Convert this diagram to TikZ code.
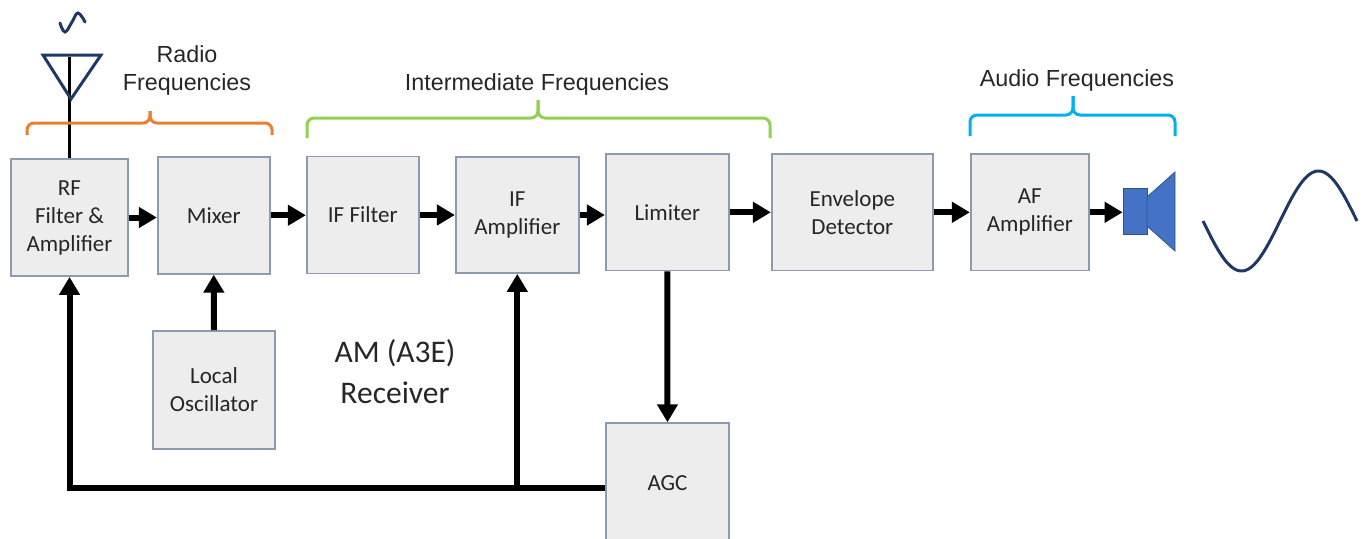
\documentclass[tikz,border=0pt]{standalone}
\usepackage{fontspec}
\setmainfont{Carlito}
\newfontfamily\bracefont{Liberation Sans}
\usetikzlibrary{arrows.meta}
\definecolor{boxfill}{HTML}{EDEDED}
\definecolor{boxline}{HTML}{8C9BB0}
\definecolor{navy}{HTML}{1F3864}
\definecolor{rfcol}{HTML}{ED7D31}
\definecolor{ifcol}{HTML}{92D050}
\definecolor{afcol}{HTML}{00B0F0}
\definecolor{spkfill}{HTML}{4472C4}
\definecolor{spkline}{HTML}{2F528F}
\tikzset{
	block/.style={draw=boxline, fill=boxfill, line width=1.8pt, align=center,
		text=black!85, font=\fontsize{23}{28}\selectfont, inner sep=0pt},
	sig/.style={line width=6pt, -{Triangle[length=18pt,width=20pt]}},
	brace/.style={line width=3pt, rounded corners=7pt},
	bracetext/.style={font=\bracefont\fontsize{23.3}{28}\selectfont, align=center, text=black!85},
}

\begin{document}
\begin{tikzpicture}[x=1pt,y=-1pt]
\useasboundingbox (0,0) rectangle (1370,538);
% blocks
\node[block, minimum width=117pt, minimum height=117pt] (rf) at (69.5,217.5) {RF\\Filter \&\\Amplifier};
\node[block, minimum width=112pt, minimum height=117pt] (mix) at (213.75,215.25) {Mixer};
\node[block, minimum width=112pt, minimum height=117pt] (iff) at (362.75,215) {IF Filter};
\node[block, minimum width=123pt, minimum height=116pt] (ifa) at (517.3,215) {IF\\Amplifier};
\node[block, minimum width=123pt, minimum height=116.5pt] (lim) at (667.3,212.3) {Limiter};
\node[block, minimum width=161pt, minimum height=116.5pt] (env) at (852.3,212.3) {Envelope\\Detector};
\node[block, minimum width=118pt, minimum height=116.5pt] (afa) at (1029.8,212.3) {AF\\Amplifier};
\node[block, minimum width=122pt, minimum height=118pt] (lo) at (214,390) {Local\\Oscillator};
\node[block, minimum width=123pt, minimum height=129pt] (agc) at (667.5,487.7) {};
\node[block, draw=none, fill=none] (agclabel) at (667.5,483) {AGC};
\node[align=center, text=black!85, font=\fontsize{31.5}{41}\selectfont] (title) at (395,372) {AM (A3E)\\Receiver};

% speaker
\node[draw=spkline, fill=spkfill, line width=0.8pt, minimum width=24pt, minimum height=46pt, inner sep=0pt] (spk) at (1135,211) {};
\draw[draw=spkline, fill=spkfill, line width=0.8pt] (1147,197) -- (1175,172) -- (1175,251) -- (1147,226) -- cycle;

% signal chain
\draw[sig] (rf.east) -- (rf.east -| mix.west);
\draw[sig] (mix.east) -- (mix.east -| iff.west);
\draw[sig] (iff.east) -- (iff.east -| ifa.west);
\draw[sig] (ifa.east) -- (ifa.east -| lim.west);
\draw[sig] (lim.east) -- (lim.east -| env.west);
\draw[sig] (env.east) -- (env.east -| afa.west);
\draw[sig] (afa.east) -- (afa.east -| spk.west);
\draw[sig] (lo.north) -- (mix.south);
\draw[sig] (lim.south) -- (agc.north);

% AGC feedback
\draw[sig] (agc.west) -| (rf.south);
\draw[sig] (ifa.south |- agc.west) -- (ifa.south);

% antenna
\coordinate (ant) at (71,57);
\draw[line width=3pt] (rf.north) -- (rf.north |- ant);
\draw[navy, line width=3pt, line join=miter] (43,55) -- (101,55) -- (71,99) -- cycle;
\draw[navy, line width=3pt, line cap=round] plot[smooth, tension=0.7] coordinates {(60,23) (65,32) (72,22) (78,13) (85,22)};

% braces
\draw[brace, rfcol] (27,135) |- (150,123) -- (150,111);
\draw[brace, rfcol] (150,111) -- (150,123) -| (272,135);
\draw[brace, ifcol] (307,138) |- (538,118) -- (538,100);
\draw[brace, ifcol] (538,100) -- (538,118) -| (770,138);
\draw[brace, afcol] (970,136) |- (1073,115) -- (1073,96);
\draw[brace, afcol] (1073,96) -- (1073,115) -| (1175,136);
\node[bracetext] (rftext) at (187,70) {Radio\\Frequencies};
\node[bracetext] (iftext) at (537,84) {Intermediate Frequencies};
\node[bracetext] (aftext) at (1077,80) {Audio Frequencies};

% output wave
\draw[navy, line width=3pt] plot[domain=0:360, samples=80, variable=\t] ({1203+\t/360*154},{221+50*sin(\t)});
\end{tikzpicture}
\end{document}
